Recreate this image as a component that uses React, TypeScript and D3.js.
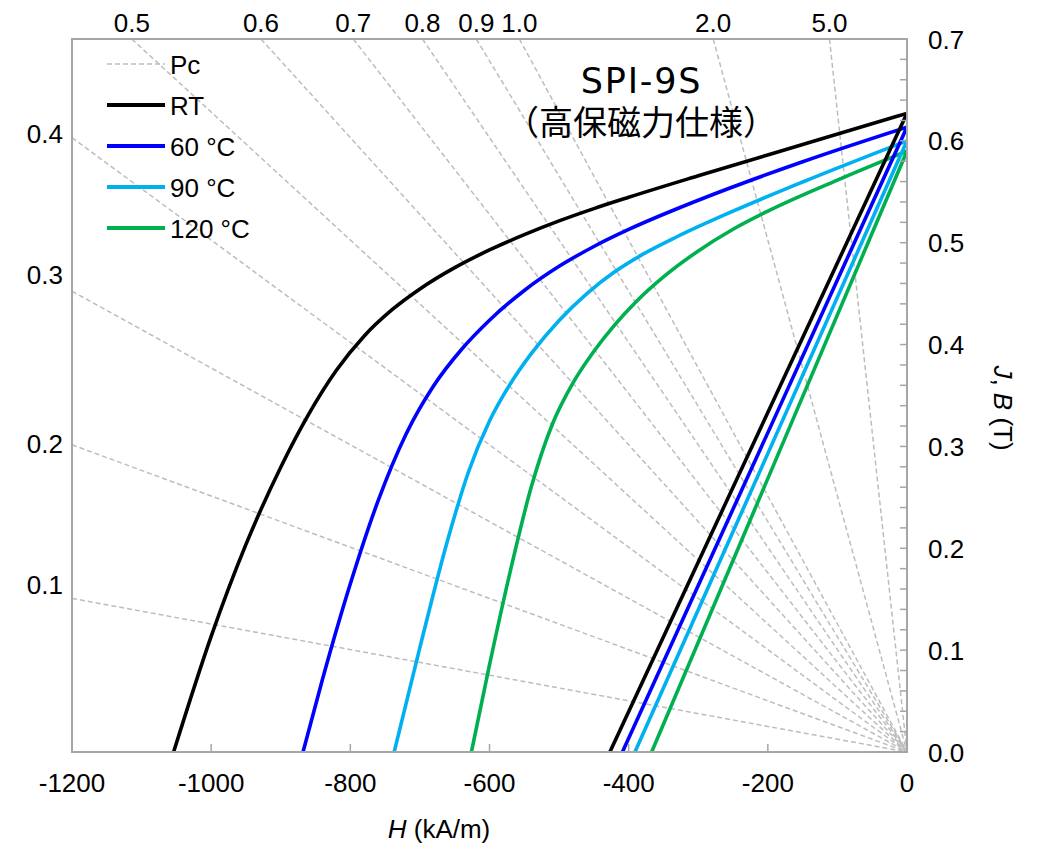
import React from "react";
import * as d3 from "d3";

// ---- data ----
const pcValues = [0.1, 0.2, 0.3, 0.4, 0.5, 0.6, 0.7, 0.8, 0.9, 1.0, 2.0, 5.0];
const pcLeftLabels = ["0.1", "0.2", "0.3", "0.4"];
const pcTopLabels = ["0.5", "0.6", "0.7", "0.8", "0.9", "1.0", "2.0", "5.0"];
const xTicks = [-1200, -1000, -800, -600, -400, -200, 0];
const yMajorTicks = [0, 0.1, 0.2, 0.3, 0.4, 0.5, 0.6, 0.7];

const seriesNames = ["RT", "60 °C", "90 °C", "120 °C"];
const seriesColors = ["#000000", "#0000ff", "#00b0f0", "#00b050"];

// J-H (intrinsic) curves: H in kA/m, J in T
const hRT = [-1054, -1000, -950, -900, -860, -820, -780, -740, -700, -650, -600, -550, -500, -450, -400, -300, -150, 0];
const jRT = [0, 0.1136, 0.2038, 0.2796, 0.3315, 0.3748, 0.4085, 0.4342, 0.4546, 0.4755, 0.4929, 0.5079, 0.5214, 0.5335, 0.5446, 0.5657, 0.5964, 0.627];

const h60 = [-868, -840, -800, -760, -720, -680, -640, -600, -550, -500, -450, -400, -300, -150, 0];
const j60 = [0, 0.0714, 0.1651, 0.2468, 0.312, 0.3598, 0.3954, 0.4239, 0.4531, 0.4768, 0.4963, 0.513, 0.5417, 0.5795, 0.6135];

const h90 = [-737, -700, -660, -630, -600, -570, -540, -500, -460, -420, -380, -330, -250, -150, 0];
const j90 = [0, 0.1027, 0.2084, 0.2754, 0.3249, 0.3615, 0.3911, 0.4237, 0.4501, 0.4714, 0.4885, 0.5061, 0.531, 0.5596, 0.600];

const h120 = [-626, -600, -570, -540, -510, -480, -450, -420, -390, -350, -300, -250, -200, -100, 0];
const j120 = [0, 0.0855, 0.1779, 0.2601, 0.3213, 0.3624, 0.3934, 0.4194, 0.4416, 0.4664, 0.4919, 0.5132, 0.531, 0.5615, 0.590];

// B-H straight lines: coercivity Hcb (kA/m) and remanence Br (T)
const hcb = [-427, -409, -391, -367];
const br = [0.627, 0.6135, 0.600, 0.590];

// ---- layout ----
const W = 1040, H = 862;
const L = 72, R = 907, T = 39, Bt = 752;
const leftLabelDy = [-13, -1, -16, -4];
const MU0 = 4 * Math.PI * 1e-7;
const FONT = "'Liberation Sans', Arial, sans-serif";
const GRAY = "#a6a6a6";
const FS = 26;

export default function App() {
  const x = d3.scaleLinear().domain([-1200, 0]).range([L, R]);
  const y = d3.scaleLinear().domain([0, 0.7]).range([Bt, T]);

  const jSeries = [
    d3.zip(hRT, jRT),
    d3.zip(h60, j60),
    d3.zip(h90, j90),
    d3.zip(h120, j120),
  ] as [number, number][][];

  const line = d3
    .line<[number, number]>()
    .x((d) => x(d[0]))
    .y((d) => y(d[1]))
    .curve(d3.curveMonotoneX);
  const straight = d3
    .line<[number, number]>()
    .x((d) => x(d[0]))
    .y((d) => y(d[1]));

  const pcEnd = (pc: number): [number, number] => {
    const bLeft = pc * MU0 * 1200 * 1000;
    if (bLeft <= 0.7) return [-1200, bLeft];
    return [-0.7 / (pc * MU0 * 1000), 0.7];
  };

  const yMinor = d3.range(0, 36).map((i) => i * 0.02);

  return (
    <svg
      width={W}
      height={H}
      style={{ position: "absolute", left: 0, top: 0, background: "#fff" }}
      fontFamily={FONT}
    >
      <defs>
        <clipPath id="plot">
          <rect x={L} y={T} width={R - L} height={Bt - T} />
        </clipPath>
      </defs>

      {/* Pc lines */}
      <g clipPath="url(#plot)">
        {pcValues.map((pc) => {
          const e = pcEnd(pc);
          return (
            <path
              key={pc}
              d={straight([e, [0, 0]]) as string}
              stroke="#bdbdbd"
              strokeWidth={1.5}
              strokeDasharray="5 3"
              fill="none"
            />
          );
        })}
      </g>

      {/* Pc labels */}
      {pcLeftLabels.map((lab, i) => {
        const e = pcEnd(pcValues[i]);
        return (
          <text key={lab} x={L - 9} y={y(e[1]) + leftLabelDy[i] + 9} textAnchor="end" fontSize={FS} fill="#000">
            {lab}
          </text>
        );
      })}
      {pcTopLabels.map((lab, i) => {
        const e = pcEnd(pcValues[i + 4]);
        return (
          <text key={lab} x={x(e[0])} y={31.5} textAnchor="middle" fontSize={FS} fill="#000">
            {lab}
          </text>
        );
      })}

      {/* curves */}
      <g clipPath="url(#plot)">
        {jSeries.map((s, i) => (
          <path key={"j" + i} d={line(s) as string} stroke={seriesColors[i]} strokeWidth={3.6} fill="none" strokeLinejoin="round" />
        ))}
        {hcb.map((hc, i) => (
          <path
            key={"b" + i}
            d={straight([[hc, 0], [0, br[i]]]) as string}
            stroke={seriesColors[i]}
            strokeWidth={3.6}
            fill="none"
          />
        ))}
      </g>

      {/* frame */}
      <rect x={L} y={T} width={R - L} height={Bt - T} fill="none" stroke={GRAY} strokeWidth={2} />

      {/* bottom axis ticks */}
      {xTicks.map((t) => (
        <g key={t}>
          <line x1={x(t)} x2={x(t)} y1={Bt} y2={Bt - 8} stroke={GRAY} strokeWidth={1.5} />
          <text x={x(t)} y={792} textAnchor="middle" fontSize={FS} fill="#000">
            {t}
          </text>
        </g>
      ))}
      <text x={439} y={838} textAnchor="middle" fontSize={FS} fill="#000">
        <tspan fontStyle="italic">H</tspan> (kA/m)
      </text>

      {/* right axis ticks */}
      {yMinor.map((t, i) => (
        <line key={i} x1={R} x2={R - 7} y1={y(t)} y2={y(t)} stroke={GRAY} strokeWidth={1.5} />
      ))}
      {yMajorTicks.map((t) => (
        <text key={t} x={928} y={y(t) + 9.5} textAnchor="start" fontSize={FS} fill="#000">
          {d3.format(".1f")(t)}
        </text>
      ))}
      <text transform="translate(994,408) rotate(90)" textAnchor="middle" fontSize={FS} fill="#000">
        <tspan fontStyle="italic">J</tspan>, <tspan fontStyle="italic">B</tspan> (T)
      </text>

      {/* title (two lines in one text element) */}
      <text textAnchor="middle" fill="#000">
        <tspan x={641.5} y={93} fontSize={35} letterSpacing={1.8} fontFamily="'DejaVu Sans', Verdana, sans-serif">
          SPI-9S
        </tspan>
        <tspan x={641} y={134.5} fontSize={34} letterSpacing={0} fontFamily="'Noto Sans CJK JP', sans-serif">
          （高保磁力仕様）
        </tspan>
      </text>

      {/* legend */}
      <g>
        <line x1={107} x2={165} y1={64} y2={64} stroke="#bdbdbd" strokeWidth={1.5} strokeDasharray="5 3" />
        <text x={170} y={64 + 9.5} fontSize={FS} fill="#000">Pc</text>
        {seriesNames.map((n, i) => {
          const ly = 105 + i * 41;
          return (
            <g key={n}>
              <line x1={107} x2={165} y1={ly} y2={ly} stroke={seriesColors[i]} strokeWidth={3.8} />
              <text x={170} y={ly + 9.5} fontSize={FS} fill="#000">{n}</text>
            </g>
          );
        })}
      </g>
    </svg>
  );
}
